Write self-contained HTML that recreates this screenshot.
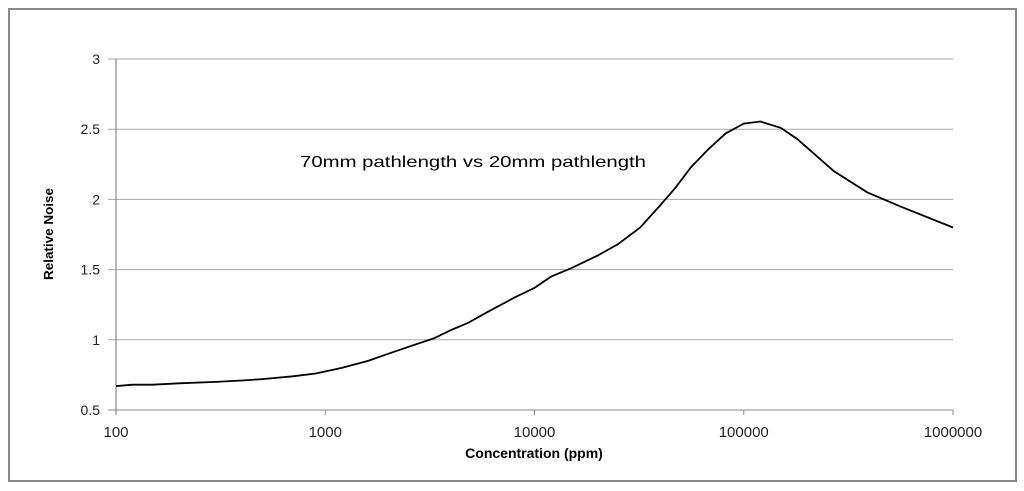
<!DOCTYPE html>
<html><head><meta charset="utf-8"><style>
body{margin:0;background:#fff;}
svg{display:block;font-family:"Liberation Sans",sans-serif;}
</style></head><body>
<svg width="1024" height="491">
<rect x="9" y="9" width="1007" height="472" fill="#fff" stroke="#888" stroke-width="2"/>
<g id="grid"></g>
<g id="axes"></g>
<path id="line" fill="none" stroke="#000" stroke-width="1.8"/>
<text x="300" y="167" font-size="16" fill="#000" textLength="346" lengthAdjust="spacingAndGlyphs">70mm pathlength vs  20mm pathlength</text>
<text x="534" y="458" font-size="14" font-weight="bold" text-anchor="middle">Concentration (ppm)</text>
<text transform="translate(53,234) rotate(-90)" font-size="13" font-weight="bold" text-anchor="middle" textLength="92" lengthAdjust="spacingAndGlyphs">Relative Noise</text>
</svg>
<script>
const xVals=[100,120,150,200,300,400,500,700,900,1200,1600,2000,2500,3300,4000,4800,6000,8000,10000,12000,15000,20000,25000,32000,40000,47000,56000,68000,82000,100000,120000,150000,180000,270000,390000,560000,1000000];
const yVals=[0.67,0.68,0.68,0.69,0.70,0.71,0.72,0.74,0.76,0.80,0.85,0.90,0.95,1.01,1.07,1.12,1.20,1.30,1.37,1.45,1.51,1.60,1.68,1.80,1.96,2.08,2.23,2.36,2.47,2.54,2.555,2.51,2.43,2.20,2.05,1.95,1.80];
const yTicks=[0.5,1,1.5,2,2.5,3];
const xTicks=[100,1000,10000,100000,1000000];
const X0=116,X1=953,Y0=410,Y1=59;
const xs=v=>X0+(Math.log10(v)-2)/4*(X1-X0);
const ys=v=>Y0-(v-0.5)/2.5*(Y0-Y1);
const NS='http://www.w3.org/2000/svg';
const grid=document.getElementById('grid'),axes=document.getElementById('axes');
function mk(tag,at,par){const e=document.createElementNS(NS,tag);for(const k in at)e.setAttribute(k,at[k]);par.appendChild(e);return e;}
yTicks.forEach(t=>{
 const l=mk('line',{x1:108,x2:X1,y1:ys(t),y2:ys(t),stroke:t===0.5?'#888':'#a8a8a8','stroke-width':1},grid);
 
 
 const tx=mk('text',{x:100,y:ys(t)+5,'font-size':14,'text-anchor':'end',fill:'#222'},axes);
 tx.textContent=String(t);
 
 
});
const ya=mk('line',{x1:X0,x2:X0,y1:Y1,y2:Y0+4,stroke:'#888','stroke-width':1.2},axes);


xTicks.forEach(t=>{
 const l=mk('line',{x1:xs(t),x2:xs(t),y1:Y0,y2:Y0+5,stroke:'#888'},axes);
 
 
 const tx=mk('text',{x:xs(t),y:Y0+27,'font-size':15,'text-anchor':'middle',fill:'#222'},axes);
 tx.textContent=String(t);
 
 
});
let d='';xVals.forEach((v,i)=>{d+=(i?'L':'M')+xs(v).toFixed(1)+','+ys(yVals[i]).toFixed(1);});
document.getElementById('line').setAttribute('d',d);
</script>
</body></html>
